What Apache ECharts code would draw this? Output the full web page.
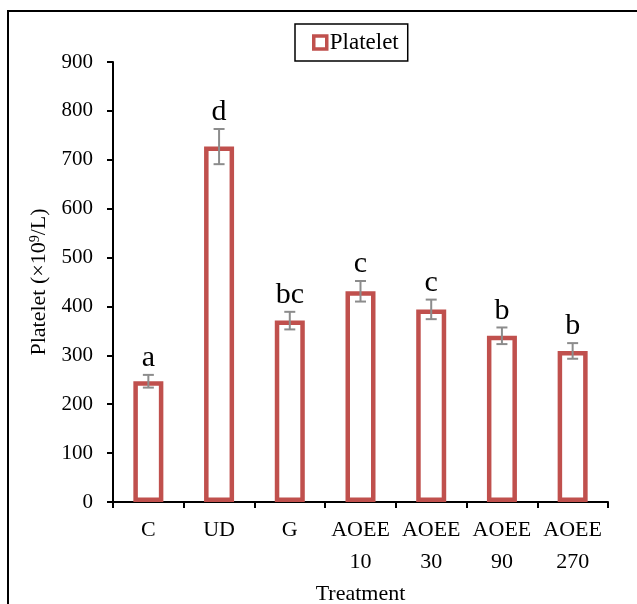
<!DOCTYPE html>
<html>
<head>
<meta charset="utf-8">
<script src="https://cdn.jsdelivr.net/npm/echarts@6/dist/echarts.min.js"></script>
<style>
  html, body { margin: 0; padding: 0; background: #fff; }
  #chart { width: 637px; height: 604px; }
</style>
</head>
<body>
<div id="chart"></div>
<script>
// Platelet counts by treatment group (mean ± error), with significance letters
const categories = ['C', 'UD', 'G', 'AOEE\n10', 'AOEE\n30', 'AOEE\n90', 'AOEE\n270'];
const plateletMean = [247, 727, 371, 431, 394, 340, 309];
const plateletErr = [13, 36, 18, 21, 20, 17, 16];
const sigLetters = ['a', 'd', 'bc', 'c', 'c', 'b', 'b'];
const yTicks = { min: 0, max: 900, interval: 100 };

const serif = '"Liberation Serif", "Times New Roman", serif';
const red = '#C0504D';

const errorData = plateletMean.map((v, i) => [i, v - plateletErr[i], v + plateletErr[i], sigLetters[i]]);

const chart = echarts.init(document.getElementById('chart'), null, { renderer: 'canvas' });
chart.setOption({
  animation: false,
  backgroundColor: '#fff',
  textStyle: { fontFamily: serif, color: '#000' },
  graphic: [{
    type: 'rect',
    shape: { x: 8, y: 11, width: 700, height: 700 },
    style: { fill: 'none', stroke: '#000', lineWidth: 2 },
    silent: true
  }],
  legend: {
    left: 295,
    top: 24,
    padding: [7, 9, 7, 17],
    borderColor: '#000',
    borderWidth: 1.5,
    borderRadius: 0,
    itemWidth: 13,
    itemHeight: 13,
    icon: 'rect',
    itemStyle: { color: '#fff', borderColor: red, borderWidth: 3.5 },
    textStyle: { fontFamily: serif, fontSize: 23, color: '#000', padding: [0, 0, 0, -2] },
    data: ['Platelet']
  },
  grid: { left: 113, right: 29, top: 62, bottom: 102, outerBoundsMode: 'none' },
  xAxis: {
    type: 'category',
    data: categories,
    boundaryGap: true,
    name: 'Treatment',
    nameLocation: 'middle',
    nameGap: 79,
    nameTextStyle: { fontFamily: serif, fontSize: 22, color: '#000' },
    axisLine: { lineStyle: { color: '#000', width: 2 } },
    axisTick: { show: true, inside: false, length: 6, interval: 0, lineStyle: { color: '#000', width: 2 } },
    axisLabel: { interval: 0, margin: 12, fontFamily: serif, fontSize: 22, color: '#000', lineHeight: 32 }
  },
  yAxis: {
    type: 'value',
    min: yTicks.min,
    max: yTicks.max,
    interval: yTicks.interval,
    name: '{a|Platelet (×10}{s|9}{a|/L)}',
    nameLocation: 'middle',
    nameGap: 63,
    nameRotate: 90,
    nameTextStyle: {
      rich: {
        a: { fontFamily: serif, fontSize: 22, color: '#000' },
        s: { fontFamily: serif, fontSize: 14, color: '#000', verticalAlign: 'top', padding: [0, 0, 8, 0] }
      }
    },
    axisLine: { show: true, lineStyle: { color: '#000', width: 2 } },
    axisTick: { show: true, inside: false, length: 6, lineStyle: { color: '#000', width: 2 } },
    axisLabel: { margin: 20, fontFamily: serif, fontSize: 21, color: '#000' },
    splitLine: { show: false }
  },
  series: [
    {
      name: 'Platelet',
      type: 'bar',
      data: plateletMean,
      barWidth: 30,
      itemStyle: { color: '#fff', borderColor: red, borderWidth: 4.5 }
    },
    {
      name: 'error',
      type: 'custom',
      data: errorData,
      z: 5,
      renderItem: function (params, api) {
        const x = api.value(0);
        const lo = api.coord([x, api.value(1)]);
        const hi = api.coord([x, api.value(2)]);
        const cap = 5.5;
        const style = { stroke: '#8C8C8C', lineWidth: 2 };
        return {
          type: 'group',
          children: [
            { type: 'line', shape: { x1: lo[0], y1: lo[1], x2: hi[0], y2: hi[1] }, style: style },
            { type: 'line', shape: { x1: hi[0] - cap, y1: hi[1], x2: hi[0] + cap, y2: hi[1] }, style: style },
            { type: 'line', shape: { x1: lo[0] - cap, y1: lo[1], x2: lo[0] + cap, y2: lo[1] }, style: style },
            {
              type: 'text',
              style: {
                text: api.value(3),
                x: hi[0],
                y: hi[1] - 1.5,
                align: 'center',
                verticalAlign: 'bottom',
                fontFamily: serif,
                fontSize: 30,
                fill: '#000'
              }
            }
          ]
        };
      }
    }
  ]
});
</script>
</body>
</html>
